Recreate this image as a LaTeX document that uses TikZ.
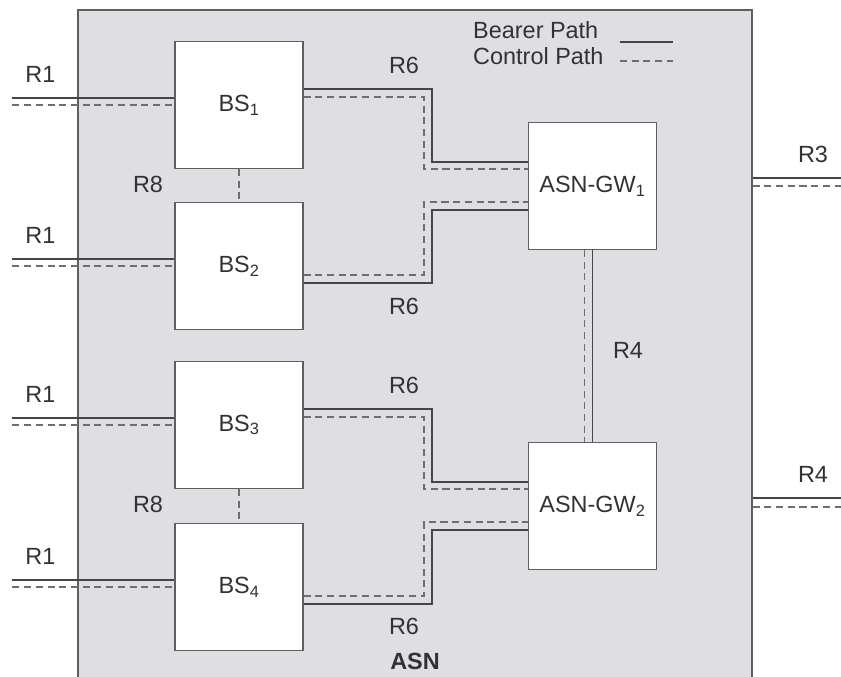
\documentclass[tikz,border=0pt]{standalone}
\usepackage{fontspec}
\setmainfont{Liberation Sans}
\usetikzlibrary{positioning, calc}
\definecolor{asn-fill}{RGB}{223,223,227}
\definecolor{asn-draw}{RGB}{95,95,95}
\definecolor{bearer-color}{RGB}{70,70,70}
\definecolor{control-color}{RGB}{110,110,110}
\definecolor{label-color}{RGB}{50,50,50}
\tikzset{
  unit/.style={draw=asn-draw, fill=white, line width=1pt, minimum width=3.84cm, minimum height=3.8cm, text=label-color, font=\fontsize{20}{24}\selectfont},
  asn/.style={draw=asn-draw, fill=asn-fill, line width=1pt, minimum width=20.22cm, minimum height=21cm},
  bearer/.style={draw=bearer-color, line width=1.1pt},
  control/.style={draw=control-color, line width=1.1pt, dash pattern=on 6pt off 4pt},
  lbl/.style={text=label-color, font=\fontsize{20}{24}\selectfont, inner sep=0pt}
}

\begin{document}
\begin{tikzpicture}[x=0.03cm, y=-0.03cm]
    % Page frame (reference proportions)
    \path[use as bounding box] (0,0) rectangle (841,677);
    \clip (0,0) rectangle (841,677);

    % ASN area - runs past the bottom edge
    \node[asn] (asn) at (415,360) {};
    \node[lbl, font=\fontsize{20}{24}\selectfont\bfseries] (asnlbl) at (415,661) {ASN};

    % Legend
    \node[lbl, anchor=west] (bearerlbl) at (473,30) {Bearer Path};
    \node[lbl, anchor=west] (controllbl) at (473,56) {Control Path};
    \coordinate (bearerkey) at (620,42);
    \coordinate (controlkey) at (620,61);
    \draw[bearer] (bearerkey) -- ++(53,0);
    \draw[control] (controlkey) -- ++(53,0);

    % Base stations
    \foreach \i/\y in {1/105, 2/266, 3/425, 4/587} {
        \node[unit] (bs\i) at (239,\y) {BS\textsubscript{\i}};
    }

    % Gateways
    \node[unit] (gw1) at (592.5,186) {ASN-GW\textsubscript{1}};
    \node[unit] (gw2) at (592.5,506) {ASN-GW\textsubscript{2}};

    % R1 - air side of each BS
    \foreach \i in {1,...,4} {
        \coordinate (r1in\i) at ($(bs\i.west)+(-162,0)$);
        \draw[bearer] ($(r1in\i)+(0,-7)$) -- ($(bs\i.west)+(0,-7)$);
        \draw[control] (r1in\i) -- (bs\i.west);
        \node[lbl] (r1lbl\i) at ($(r1in\i)+(28,-31)$) {R1};
    }

    % R8 - between neighbouring BSs
    \draw[control] (bs1.south) -- (bs2.north);
    \draw[control] (bs3.south) -- (bs4.north);
    \node[lbl] (r8a) at (148,184) {R8};
    \node[lbl] (r8b) at (148,504) {R8};

    % R6 - upper BS of each pair
    \foreach \b/\g in {1/1, 3/2} {
        \draw[bearer] ($(bs\b.east)+(0,-16)$) -| ($(gw\g.west)+(-96,-24)$) -- ($(gw\g.west)+(0,-24)$);
        \draw[control] ($(bs\b.east)+(0,-8)$) -| ($(gw\g.west)+(-104,-17)$) -- ($(gw\g.west)+(0,-17)$);
    }
    % R6 - lower BS of each pair
    \foreach \b/\g in {2/1, 4/2} {
        \draw[bearer] ($(bs\b.east)+(0,17)$) -| ($(gw\g.west)+(-96,24)$) -- ($(gw\g.west)+(0,24)$);
        \draw[control] ($(bs\b.east)+(0,9)$) -| ($(gw\g.west)+(-104,16)$) -- ($(gw\g.west)+(0,16)$);
    }
    \node[lbl] (r6a) at (404,65) {R6};
    \node[lbl] (r6b) at (404,306) {R6};
    \node[lbl] (r6c) at (404,385) {R6};
    \node[lbl] (r6d) at (404,626) {R6};

    % R4 - gateway to gateway
    \draw[bearer] (gw1.south) -- (gw2.north);
    \draw[control] ($(gw1.south)+(-8,0)$) -- ($(gw2.north)+(-8,0)$);
    \node[lbl] (r4in) at (628,350) {R4};

    % R3 / R4 - leaving the ASN
    \coordinate (r3out) at (841,186);
    \coordinate (r4out) at (841,507);
    \draw[bearer] ($(asn.east |- r3out)+(0,-8)$) -- ($(r3out)+(0,-8)$);
    \draw[control] (asn.east |- r3out) -- (r3out);
    \draw[bearer] ($(asn.east |- r4out)+(0,-9)$) -- ($(r4out)+(0,-9)$);
    \draw[control] (asn.east |- r4out) -- (r4out);
    \node[lbl] (r3lbl) at (813,154) {R3};
    \node[lbl] (r4lbl) at (813,474) {R4};
\end{tikzpicture}
\end{document}
